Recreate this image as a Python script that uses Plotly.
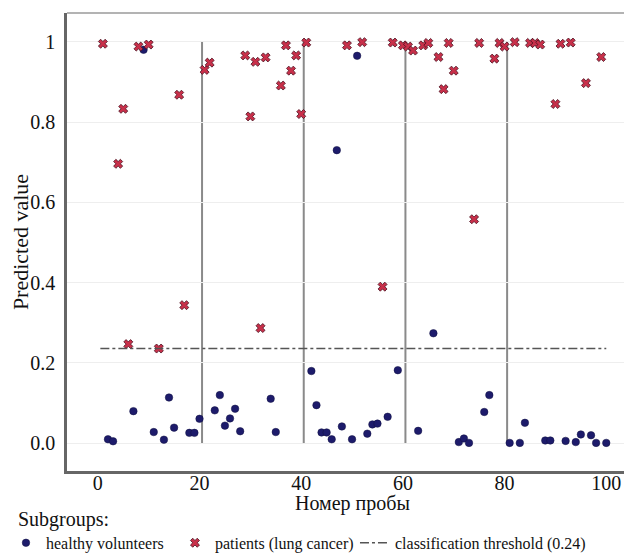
import plotly.graph_objects as go

# ---- data ----
healthy_x = [2, 3, 7, 9, 11, 13, 14, 15, 18, 19, 20, 23, 24, 25, 26, 27, 28, 34, 35,
             42, 43, 44, 45, 46, 47, 48, 50, 51, 53, 54, 55, 57, 59, 63, 66,
             71, 72, 73, 76, 77, 81, 83, 84, 88, 89, 92, 94, 95, 97, 98, 100]
healthy_y = [0.010, 0.005, 0.080, 0.980, 0.028, 0.009, 0.114, 0.039, 0.026, 0.026, 0.061,
             0.082, 0.120, 0.044, 0.062, 0.086, 0.030, 0.111, 0.028,
             0.180, 0.095, 0.027, 0.027, 0.010, 0.730, 0.042, 0.010, 0.965, 0.024, 0.047,
             0.049, 0.066, 0.182, 0.031, 0.274,
             0.003, 0.012, 0.001, 0.078, 0.120, 0.001, 0.001, 0.051, 0.007, 0.007,
             0.006, 0.003, 0.022, 0.020, 0.001, 0.001]

patients_x = [1, 4, 5, 6, 8, 10, 12, 16, 17, 21, 22, 29, 30, 31, 32, 33, 36, 37, 38, 39,
              40, 41, 49, 52, 56, 58, 60, 61, 62, 64, 65, 67, 68, 69, 70, 74, 75, 78,
              79, 80, 82, 85, 86, 87, 90, 91, 93, 96, 99]
patients_y = [0.995, 0.696, 0.833, 0.247, 0.988, 0.993, 0.236, 0.868, 0.344, 0.930, 0.948,
              0.966, 0.814, 0.950, 0.287, 0.961, 0.891, 0.991, 0.928, 0.966,
              0.820, 0.998, 0.991, 0.999, 0.390, 0.998, 0.991, 0.988, 0.978, 0.991,
              0.997, 0.962, 0.882, 0.997, 0.928, 0.558, 0.997, 0.958,
              0.997, 0.988, 0.999, 0.997, 0.997, 0.993, 0.845, 0.995, 0.998, 0.897, 0.962]

threshold_x = [0.5, 100]
threshold_value = 0.236
group_bounds = [20.5, 40.5, 60.5, 80.5]

x_ticks = [0, 20, 40, 60, 80, 100]
y_ticks = [0.0, 0.2, 0.4, 0.6, 0.8, 1.0]
y_ticktext = ["0.0", "0.2", "0.4", "0.6", "0.8", "1"]

names = ["healthy volunteers", "patients (lung cancer)", "classification threshold (0.24)"]
x_title = "Номер пробы"
y_title = "Predicted value"
legend_title = "\u00a0\u00a0Subgroups:"

FONT = "Liberation Serif, Times New Roman, serif"
TXT = "#111111"

fig = go.Figure()

fig.add_trace(go.Scatter(
    x=healthy_x, y=healthy_y, mode="markers", name=names[0],
    marker=dict(symbol="circle", size=7.5, color="#1d1b6b",
                line=dict(width=0.5, color="#101040")),
    legendwidth=124,
))
fig.add_trace(go.Scatter(
    x=patients_x, y=patients_y, mode="markers", name=names[1],
    marker=dict(symbol="x", size=8, color="#c8304a",
                line=dict(width=0.8, color="#4a1020")),
    legendwidth=135,
))
fig.add_trace(go.Scatter(
    x=threshold_x, y=[threshold_value] * len(threshold_x), mode="lines", name=names[2],
    line=dict(color="#555555", width=1.4, dash="dashdot"),
    legendwidth=230,
))

shapes = []
for b in group_bounds:
    shapes.append(dict(type="line", xref="x", yref="y", x0=b, x1=b, y0=0, y1=1,
                       line=dict(color="#8a8a8a", width=2), layer="below"))
shapes.append(dict(type="line", xref="paper", yref="paper", x0=0, x1=1, y0=1, y1=1,
                   line=dict(color="#9a9a9a", width=1.5)))

fig.update_layout(
    width=624, height=546,
    margin=dict(l=59, r=0, t=5, b=83, autoexpand=False),
    paper_bgcolor="white", plot_bgcolor="white",
    font=dict(family=FONT, color=TXT, size=16),
    shapes=shapes,
    annotations=[dict(text=x_title, xref="paper", yref="paper", x=0.505, y=0,
                      xanchor="center", yanchor="middle", yshift=-32, showarrow=False,
                      font=dict(family=FONT, size=20, color=TXT))],
    showlegend=True,
    legend=dict(
        orientation="h", x=-0.108, y=-0.063, xanchor="left", yanchor="top",
        font=dict(family=FONT, size=16, color=TXT),
        title=dict(text=legend_title, side="top",
                   font=dict(family=FONT, size=20, color=TXT)),
        bgcolor="rgba(0,0,0,0)", borderwidth=0,
        itemsizing="trace", tracegroupgap=0,
    ),
    xaxis=dict(
        range=[-6.06, 105.06], tickvals=x_ticks, showgrid=False, zeroline=False,
        showline=True, linecolor="#666666", linewidth=2.5, ticks="",
        ticklabelstandoff=-8,
        tickfont=dict(family=FONT, size=20, color=TXT),
    ),
    yaxis=dict(
        range=[-0.069, 1.0716], tickvals=y_ticks, ticktext=y_ticktext,
        showgrid=True, gridcolor="#eeeeee", gridwidth=1, zeroline=False,
        showline=True, linecolor="#666666", linewidth=2.5, ticks="",
        ticklabelstandoff=5,
        tickfont=dict(family=FONT, size=20, color=TXT),
        title=dict(text=y_title, font=dict(family=FONT, size=22, color=TXT),
                   standoff=2),
    ),
)

fig.write_html("out.html")
